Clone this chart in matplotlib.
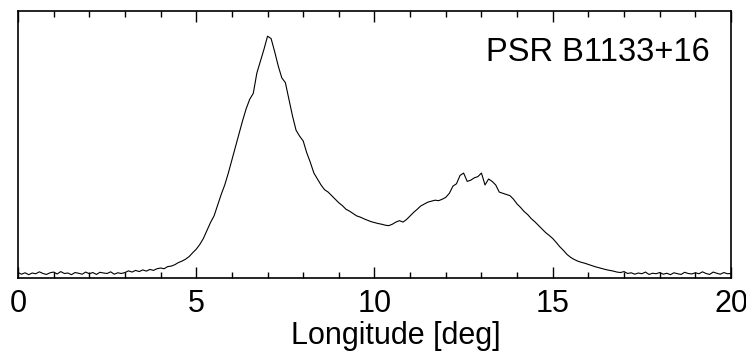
import numpy as np
import matplotlib.pyplot as plt
from matplotlib.ticker import MultipleLocator

plt.rcParams['font.family'] = ['Liberation Sans', 'DejaVu Sans']

# pulse longitude grid (deg), 0.1 deg steps
longitude = np.round(np.arange(0, 201) * 0.1, 1)

# normalised intensity, one row per degree
intensity = [
    0.002, -0.005, 0.001, -0.007, 0.000, -0.003, 0.005, -0.002, -0.006, 0.001,
    0.004, -0.004, 0.006, -0.002, 0.000, -0.007, 0.002, -0.001, -0.005, 0.004,
    -0.003, 0.002, -0.006, 0.003, 0.000, -0.002, 0.005, -0.005, 0.001, -0.002,
    0.002, 0.009, 0.004, 0.011, 0.006, 0.013, 0.008, 0.015, 0.011, 0.018,
    0.021, 0.018, 0.027, 0.029, 0.035, 0.044, 0.050, 0.058, 0.069, 0.085,
    0.100, 0.120, 0.145, 0.178, 0.212, 0.240, 0.285, 0.330, 0.370, 0.420,
    0.475, 0.530, 0.585, 0.640, 0.690, 0.730, 0.755, 0.840, 0.890, 0.940,
    0.995, 0.985, 0.930, 0.870, 0.820, 0.800, 0.730, 0.660, 0.600, 0.575,
    0.555, 0.505, 0.465, 0.420, 0.395, 0.370, 0.350, 0.340, 0.325, 0.310,
    0.295, 0.283, 0.268, 0.260, 0.250, 0.240, 0.235, 0.228, 0.222, 0.216,
    0.212, 0.208, 0.205, 0.201, 0.199, 0.205, 0.214, 0.220, 0.214, 0.225,
    0.240, 0.255, 0.268, 0.282, 0.290, 0.298, 0.302, 0.306, 0.304, 0.310,
    0.318, 0.335, 0.365, 0.375, 0.410, 0.420, 0.385, 0.390, 0.400, 0.405,
    0.420, 0.370, 0.395, 0.385, 0.370, 0.340, 0.335, 0.330, 0.325, 0.310,
    0.290, 0.275, 0.258, 0.245, 0.228, 0.215, 0.200, 0.185, 0.170, 0.158,
    0.145, 0.128, 0.110, 0.095, 0.078, 0.066, 0.057, 0.050, 0.045, 0.041,
    0.036, 0.031, 0.026, 0.022, 0.018, 0.014, 0.011, 0.008, 0.004, 0.002,
    0.006, -0.002, 0.001, -0.005, 0.000, -0.003, 0.004, -0.006, -0.001, -0.003,
    0.002, -0.005, -0.001, -0.007, 0.001, -0.003, -0.006, 0.003, -0.002, -0.004,
    0.001, -0.003, 0.005, -0.002, -0.006, 0.004, -0.001, -0.005, 0.002, -0.003,
    -0.002,
]

fig = plt.figure(figsize=(7.46, 3.52), dpi=100)
ax = fig.add_axes([0.0241, 0.2102, 0.9558, 0.7586])

ax.plot(longitude, intensity, '-', color='black', linewidth=0.8)

ax.set_xlim(0, 20)
ax.set_ylim(-0.021, 1.101)

ax.xaxis.set_major_locator(MultipleLocator(5))
ax.xaxis.set_minor_locator(MultipleLocator(1))
ax.yaxis.set_ticks([])
ax.tick_params(axis='x', which='major', direction='in', top=True, length=8, width=1, labelsize=22, pad=8)
ax.tick_params(axis='x', which='minor', direction='in', top=True, length=4, width=1)
for s in ax.spines.values():
    s.set_linewidth(1.2)

ax.set_xlabel('Longitude [deg]', fontsize=22)
ax.xaxis.set_label_coords(0.53, -0.16)
ax.text(0.97, 0.845, 'PSR B1133+16', transform=ax.transAxes, fontsize=23.5,
        horizontalalignment='right', verticalalignment='center')

plt.savefig('out.png', dpi=100)
plt.close('all')
